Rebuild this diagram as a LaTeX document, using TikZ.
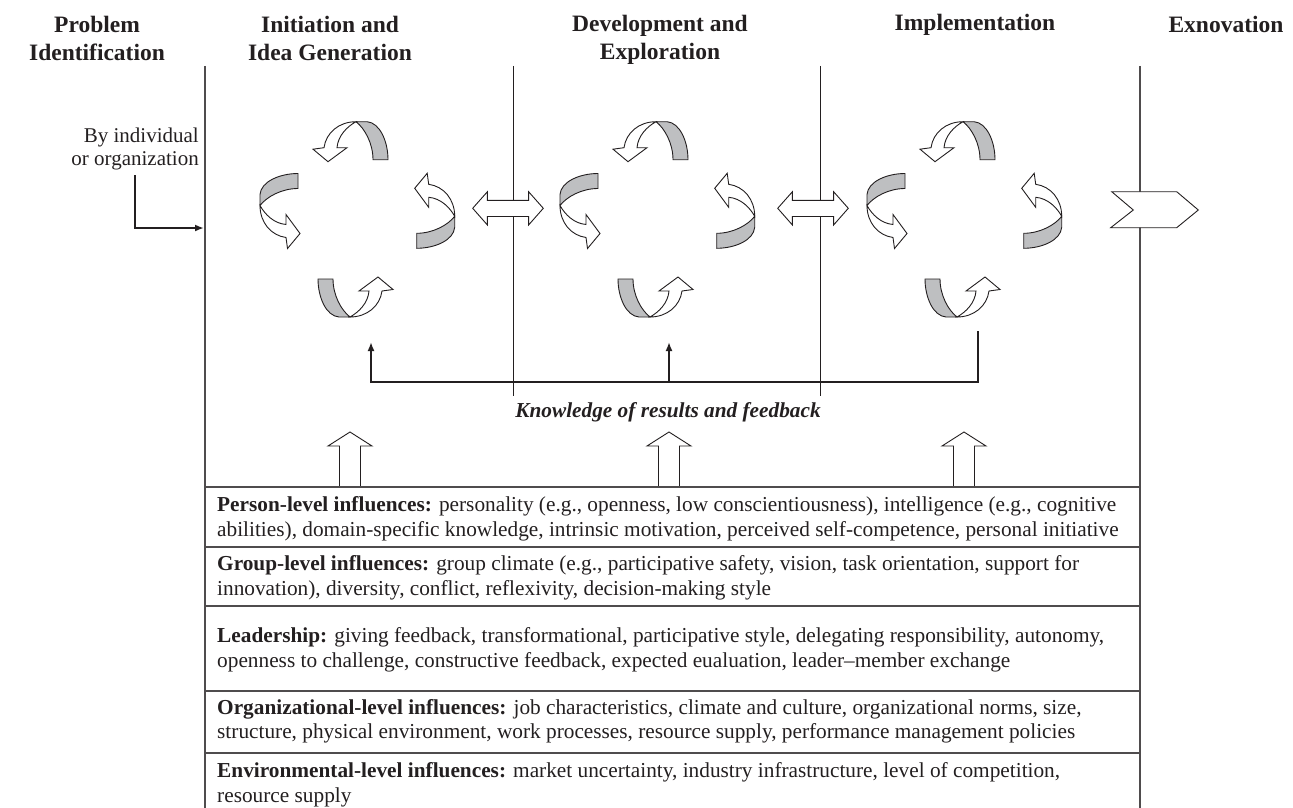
\documentclass[tikz,border=0pt]{standalone}
\usepackage{fontspec}
\setmainfont{Liberation Serif}
\usetikzlibrary{arrows.meta}
\definecolor{band}{RGB}{190,191,193}
\definecolor{ink}{RGB}{35,31,32}
\begin{document}
\begin{tikzpicture}[x=1pt,y=-1pt,
  hdr/.style={align=center,font=\fontsize{23.5}{28}\selectfont\bfseries,text=ink},
  rowtext/.style={anchor=west,align=left,font=\fontsize{21.3}{24.5}\selectfont,text=ink,inner sep=0pt},
  phase/.style={draw=ink,line width=0.8pt},
  frame/.style={draw=ink!80,line width=1.3pt},
  shapeline/.style={draw=ink,line width=0.9pt,line join=miter},
  fb/.style={draw=ink,line width=2.4pt},
  fbarrow/.style={draw=ink,line width=2.4pt,-{Latex[length=9pt,width=7pt]}},
  cycunit/.pic={
    \filldraw[fill=band,shapeline] (0,0) -- (11,0) .. controls (24,1) and (32,20) .. (32,38)
      -- (17,38) .. controls (17,22) and (9,7) .. (0,0) -- cycle;
    \filldraw[fill=white,shapeline] (0,0) .. controls (-17,0) and (-30,11) .. (-32,26)
      -- (-43,27.5) -- (-28,40) -- (-9,26) -- (-19,26)
      .. controls (-18,14) and (-9,5) .. (0,0) -- cycle;
  }]
\useasboundingbox (0,0) rectangle (1293,808);

% headers
\node[hdr] (hProb) at (97,38) {Problem\\Identification};
\node[hdr] (hInit) at (330,38) {Initiation and\\Idea Generation};
\node[hdr] (hDev) at (660,39.5) {Development and\\Exploration};
\node[hdr] (hImpl) at (975,24.5) {Implementation};
\node[hdr] (hExno) at (1226,24) {Exnovation};

% phase lines
\coordinate (l1t) at (205,66);   \coordinate (l1b) at (205,808);
\coordinate (l2t) at (513,66);   \coordinate (l2b) at (513,396);
\coordinate (l3t) at (820,66);   \coordinate (l3b) at (820,396);
\coordinate (l4t) at (1140,66);  \coordinate (l4b) at (1140,808);
\draw[frame] (l1t) -- (l1b);
\draw[phase] (l2t) -- (l2b);
\draw[phase] (l3t) -- (l3b);
\draw[frame] (l4t) -- (l4b);

% by individual
\node[anchor=east,align=right,font=\fontsize{21}{23}\selectfont,text=ink,inner sep=0pt] (byind) at (199,149) {By individual\\or organization};
\coordinate (Lt) at (135,175);
\coordinate (Lc) at (135,228);
\coordinate (Le) at (204,228);
\draw[ink,line width=2.4pt,-{Latex[length=9pt,width=7pt]}] (Lt) -- (Lc) -- (Le);

% cycles
\foreach \dx in {0,300,607}{
  \pic at (356+\dx,121.7) {cycunit};
  \pic[rotate=90] at (260+\dx,205.5) {cycunit};
  \pic[rotate=180] at (350+\dx,317) {cycunit};
  \pic[rotate=270] at (454.7+\dx,216.3) {cycunit};
}

% double arrows
\foreach \cx in {508,813}{
  \filldraw[fill=white,shapeline] (\cx-35.3,208.3) -- (\cx-20.6,191.7) -- (\cx-20.6,200.3)
    -- (\cx+20.6,200.3) -- (\cx+20.6,191.7) -- (\cx+35.3,208.3) -- (\cx+20.6,225)
    -- (\cx+20.6,216.5) -- (\cx-20.6,216.5) -- (\cx-20.6,225) -- cycle;
}

% exnovation chevron
\filldraw[fill=white,shapeline] (1111.7,191.7) -- (1176.7,191.7) -- (1198.3,210)
  -- (1176.7,227.7) -- (1110.7,227.7) -- (1133.3,210) -- cycle;

% feedback loop
\coordinate (fbA) at (371,382);
\coordinate (fbAt) at (371,342);
\coordinate (fbB) at (669,382);
\coordinate (fbBt) at (669,342);
\coordinate (fbC) at (978,382);
\coordinate (fbCt) at (978,331);
\draw[fb,line join=miter] (fbA) -- (fbC) -- (fbCt);
\draw[fbarrow] ([yshift=-1.2pt]fbA) -- (fbAt);
\draw[fbarrow] (fbB) -- (fbBt);
\node[font=\fontsize{21.3}{24}\selectfont\bfseries\itshape,text=ink] (know) at (668,412) {Knowledge of results and feedback};

% block arrows up
\foreach \cx in {350,669,964}{
  \filldraw[fill=white,shapeline] (\cx-10.5,487) -- (\cx-10.5,446) -- (\cx-22,446) -- (\cx,432)
    -- (\cx+22,446) -- (\cx+10.5,446) -- (\cx+10.5,487) -- cycle;
}

% influence table
\draw[frame] (205,487) -- (1140,487);
\draw[frame] (205,547) -- (1140,547);
\draw[frame] (205,606) -- (1140,606);
\draw[frame] (205,691) -- (1140,691);
\draw[frame] (205,753) -- (1140,753);

\node[rowtext] (rPerson) at (217,519) {\textbf{Person-level influences:} personality (e.g., openness, low conscientiousness), intelligence (e.g., cognitive\\abilities), domain-specific knowledge, intrinsic motivation, perceived self-competence, personal initiative};
\node[rowtext] (rGroup) at (217,578) {\textbf{Group-level influences:} group climate (e.g., participative safety, vision, task orientation, support for\\innovation), diversity, conflict, reflexivity, decision-making style};
\node[rowtext] (rLead) at (217,650) {\textbf{Leadership:} giving feedback, transformational, participative style, delegating responsibility, autonomy,\\openness to challenge, constructive feedback, expected eualuation, leader–member exchange};
\node[rowtext] (rOrg) at (217,721.5) {\textbf{Organizational-level influences:} job characteristics, climate and culture, organizational norms, size,\\structure, physical environment, work processes, resource supply, performance management policies};
\node[rowtext] (rEnv) at (217,785) {\textbf{Environmental-level influences:} market uncertainty, industry infrastructure, level of competition,\\resource supply};
\end{tikzpicture}
\end{document}
